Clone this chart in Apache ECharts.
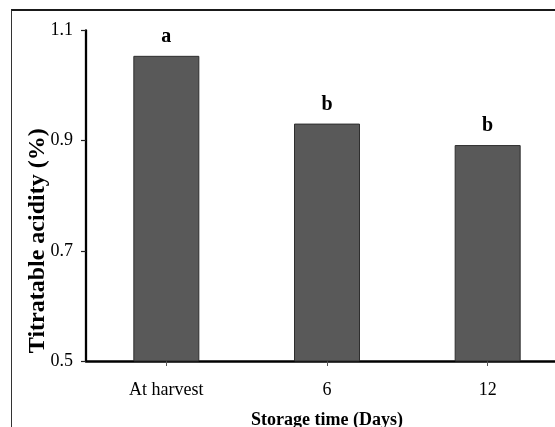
<!DOCTYPE html>
<html>
<head>
<meta charset="utf-8">
<script src="https://cdn.jsdelivr.net/npm/echarts@6/dist/echarts.min.js"></script>
<style>
  html, body { margin: 0; padding: 0; background: #fff; }
  #wrap { position: relative; width: 555px; height: 427px; overflow: hidden; }
  #frame { position: absolute; left: 11px; top: 9px; width: 700px; height: 600px;
           border-top: 2px solid #1a1a1a; border-left: 1.5px solid #333; box-sizing: border-box; }
  #chart { position: absolute; left: 0; top: 0; width: 555px; height: 427px; }
</style>
</head>
<body>
<div id="wrap">
  <div id="frame"></div>
  <div id="chart"></div>
</div>
<script>
// Data
const categories = ['At harvest', '6', '12'];
const acidity = [1.054, 0.931, 0.892];
const letters = ['a', 'b', 'b'];
const yTicks = [0.5, 0.7, 0.9, 1.1];
const xAxisTitle = 'Storage time (Days)';
const yAxisTitle = 'Titratable acidity (%)';

const serif = '"Liberation Serif", "Times New Roman", serif';
const chart = echarts.init(document.getElementById('chart'), null, { renderer: 'canvas' });

chart.setOption({
  backgroundColor: 'transparent',
  animation: false,
  grid: { left: 86, right: -13, top: 30.5, bottom: 66, containLabel: false, outerBoundsMode: 'none' },
  xAxis: {
    type: 'category',
    data: categories,
    name: xAxisTitle,
    nameLocation: 'middle',
    nameGap: 50,
    nameMoveOverlap: false,
    nameTextStyle: { fontFamily: serif, fontWeight: 'bold', fontSize: 18, color: '#000' },
    axisLine: { show: true, lineStyle: { color: '#000', width: 2.5 } },
    axisTick: { show: true, alignWithLabel: true, length: 5, lineStyle: { color: '#555', width: 1 } },
    axisLabel: { fontFamily: serif, fontSize: 18, color: '#000', margin: 20 },
    splitLine: { show: false }
  },
  yAxis: {
    type: 'value',
    min: yTicks[0],
    max: yTicks[yTicks.length - 1],
    interval: yTicks[1] - yTicks[0],
    name: yAxisTitle,
    nameLocation: 'middle',
    nameGap: 36,
    nameRotate: 90,
    nameMoveOverlap: false,
    nameTextStyle: { fontFamily: serif, fontWeight: 'bold', fontSize: 24, color: '#000', padding: [0, 90, 0, 0] },
    axisLine: { show: true, lineStyle: { color: '#000', width: 2.3 } },
    axisTick: { show: true, inside: false, length: 5, lineStyle: { color: '#222', width: 1.2 } },
    axisLabel: { fontFamily: serif, fontSize: 18, color: '#000', margin: 13,
                 formatter: v => v.toFixed(1) },
    splitLine: { show: false }
  },
  series: [{
    type: 'bar',
    data: acidity,
    barWidth: 66,
    itemStyle: { color: '#595959', borderColor: '#2e2e2e', borderWidth: 1 },
    label: {
      show: true,
      position: 'top',
      distance: 9,
      fontFamily: serif,
      fontWeight: 'bold',
      fontSize: 20,
      color: '#000',
      formatter: p => letters[p.dataIndex]
    }
  }]
});
</script>
</body>
</html>
